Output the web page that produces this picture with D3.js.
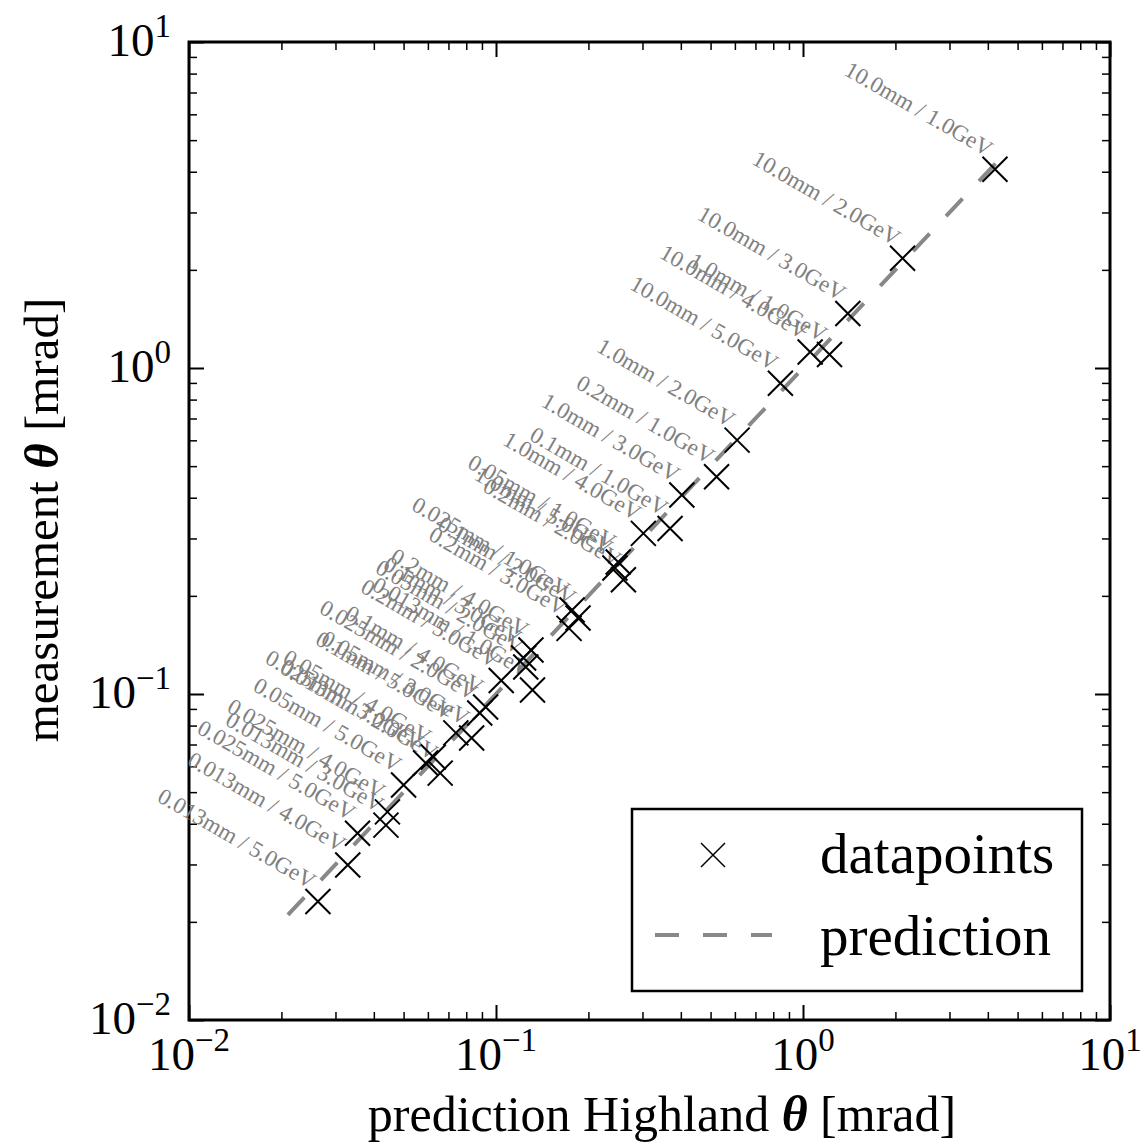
<!DOCTYPE html>
<html>
<head>
<meta charset="utf-8">
<script src="https://cdn.jsdelivr.net/npm/d3@7"></script>
<style>
  body { margin: 0; background: #fff; }
  text { font-family: "Liberation Serif", "Times New Roman", serif; }
</style>
</head>
<body>
<script>
// thickness / beam energy combos, thickness-major order
const thicknesses = ['10.0', '1.0', '0.2', '0.1', '0.05', '0.025', '0.013'];
const energies = ['1.0', '2.0', '3.0', '4.0', '5.0'];

// Highland prediction [mrad]
const prediction = [
  4.22, 2.11, 1.40, 1.055, 0.844,
  1.22, 0.61, 0.403, 0.302, 0.244,
  0.523, 0.26, 0.173, 0.13, 0.104,
  0.369, 0.185, 0.123, 0.0925, 0.074,
  0.25, 0.125, 0.0833, 0.0625, 0.050,
  0.177, 0.0885, 0.059, 0.0443, 0.0354,
  0.1315, 0.0658, 0.0438, 0.0329, 0.0263
];

// measured theta [mrad]
const measurement = [
  4.07, 2.17, 1.47, 1.12, 0.898,
  1.10, 0.601, 0.408, 0.311, 0.2435,
  0.464, 0.224, 0.159, 0.1365, 0.110,
  0.322, 0.171, 0.129, 0.0912, 0.076,
  0.254, 0.121, 0.0733, 0.0641, 0.0526,
  0.181, 0.0874, 0.0614, 0.0435, 0.0374,
  0.1029, 0.0572, 0.0396, 0.0299, 0.0231
];

// dashed prediction line (y = x)
const lineRange = [0.021, 4.45];

const majorTicks = [1e-2, 1e-1, 1e0, 1e1];
const majorExp = ['\u22122', '\u22121', '0', '1'];

const width = 1142;
const height = 1145;
const plotLeft = 189, plotRight = 1110, plotTop = 42, plotBottom = 1020;

const svg = d3.select('body')
  .append('svg')
  .attr('width', width)
  .attr('height', height);

const x = d3.scaleLog().domain([1e-2, 1e1]).range([plotLeft, plotRight]);
const y = d3.scaleLog().domain([1e-2, 1e1]).range([plotBottom, plotTop]);

const minorTicks = x.ticks().filter(v => !majorTicks.some(m => Math.abs(m - v) / m < 1e-9));

function drawTicks(axisFn, scale, transform) {
  const gMaj = svg.append('g')
    .attr('transform', transform)
    .call(axisFn(scale).tickValues(majorTicks).tickSize(-15).tickSizeOuter(0).tickFormat(''));
  gMaj.select('.domain').remove();
  gMaj.selectAll('line').attr('stroke', '#000').attr('stroke-width', 2);

  const gMin = svg.append('g')
    .attr('transform', transform)
    .call(axisFn(scale).tickValues(minorTicks).tickSize(-8).tickSizeOuter(0).tickFormat(''));
  gMin.select('.domain').remove();
  gMin.selectAll('line').attr('stroke', '#000').attr('stroke-width', 1.5);
}

drawTicks(d3.axisBottom, x, `translate(0,${plotBottom})`);
drawTicks(d3.axisTop, x, `translate(0,${plotTop})`);
drawTicks(d3.axisLeft, y, `translate(${plotLeft},0)`);
drawTicks(d3.axisRight, y, `translate(${plotRight},0)`);

// frame
svg.append('rect')
  .attr('x', plotLeft).attr('y', plotTop)
  .attr('width', plotRight - plotLeft).attr('height', plotBottom - plotTop)
  .attr('fill', 'none').attr('stroke', '#000').attr('stroke-width', 3);

// tick labels with superscripts
function powLabel(sel, exp) {
  sel.append('tspan').text('10');
  sel.append('tspan').attr('font-size', 33).attr('dy', -19).text(exp);
}

majorTicks.forEach((v, i) => {
  svg.append('text')
    .attr('x', x(v)).attr('y', 1070)
    .attr('text-anchor', 'middle')
    .attr('font-size', 47)
    .call(powLabel, majorExp[i]);

  svg.append('text')
    .attr('x', 171).attr('y', y(v) + 14)
    .attr('text-anchor', 'end')
    .attr('font-size', 47)
    .call(powLabel, majorExp[i]);
});

// axis titles
const xt = svg.append('text')
  .attr('x', 662).attr('y', 1131)
  .attr('text-anchor', 'middle')
  .attr('font-size', 50);
xt.append('tspan').text('prediction Highland ');
xt.append('tspan').attr('font-style', 'italic').attr('font-weight', 'bold').text('\u03b8');
xt.append('tspan').text(' [mrad]');

const yt = svg.append('text')
  .attr('transform', 'translate(58,520) rotate(-90)')
  .attr('text-anchor', 'middle')
  .attr('font-size', 49);
yt.append('tspan').text('measurement ');
yt.append('tspan').attr('font-style', 'italic').attr('font-weight', 'bold').text('\u03b8');
yt.append('tspan').text(' [mrad]');

// prediction line
const line = d3.line().x(d => x(d)).y(d => y(d));
svg.append('path')
  .attr('d', line(lineRange))
  .attr('fill', 'none')
  .attr('stroke', '#888')
  .attr('stroke-width', 4)
  .attr('stroke-dasharray', '24 24');

// points
const points = [];
thicknesses.forEach((t, i) => {
  energies.forEach((e, j) => {
    const k = i * energies.length + j;
    points.push({ label: `${t}mm / ${e}GeV`, px: prediction[k], my: measurement[k] });
  });
});

function cross(s) {
  return `M${-s},${-s}L${s},${s}M${-s},${s}L${s},${-s}`;
}

svg.append('g')
  .selectAll('text')
  .data(points)
  .enter()
  .append('text')
  .attr('transform', d => `translate(${x(d.px) - 8},${y(d.my) - 12}) rotate(30)`)
  .attr('text-anchor', 'end')
  .attr('font-size', 23)
  .attr('fill', '#808080')
  .text(d => d.label);

svg.append('g')
  .selectAll('path')
  .data(points)
  .enter()
  .append('path')
  .attr('transform', d => `translate(${x(d.px)},${y(d.my)})`)
  .attr('d', cross(12.5))
  .attr('stroke', '#000')
  .attr('stroke-width', 2)
  .attr('fill', 'none');

// legend
const lg = svg.append('g');
lg.append('rect')
  .attr('x', 632).attr('y', 809)
  .attr('width', 450).attr('height', 182)
  .attr('fill', '#fff').attr('stroke', '#000').attr('stroke-width', 2.5);
lg.append('path')
  .attr('transform', 'translate(713,855)')
  .attr('d', cross(12))
  .attr('stroke', '#000').attr('stroke-width', 1.5).attr('fill', 'none');
lg.append('text')
  .attr('x', 820).attr('y', 873)
  .attr('font-size', 57)
  .text('datapoints');
lg.append('line')
  .attr('x1', 655).attr('x2', 772)
  .attr('y1', 935).attr('y2', 935)
  .attr('stroke', '#888').attr('stroke-width', 4)
  .attr('stroke-dasharray', '24 24');
lg.append('text')
  .attr('x', 820).attr('y', 955)
  .attr('font-size', 57)
  .text('prediction');
</script>
</body>
</html>
